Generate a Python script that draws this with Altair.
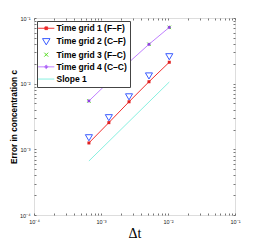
import json
import altair as alt
import pandas as pd

# ---------------- data ----------------
dt = [6.6e-4, 1.31e-3, 2.62e-3, 5.2e-3, 1.045e-2]
err_grid1 = [1.25e-3, 2.55e-3, 5.3e-3, 1.07e-2, 2.12e-2]
err_grid2 = [1.50e-3, 3.03e-3, 6.3e-3, 1.31e-2, 2.57e-2]
err_grid3 = [5.45e-3, 1.07e-2, 2.12e-2, 3.98e-2, 7.2e-2]
err_grid4 = [5.45e-3, 1.07e-2, 2.12e-2, 3.98e-2, 7.2e-2]
slope_dt = [6.6e-4, 1.045e-2]
slope_err = [6.64e-4, 1.06e-2]

series_names = ["Time grid 1 (F\u2013F)", "Time grid 2 (C\u2013F)",
                "Time grid 3 (F\u2013C)", "Time grid 4 (C\u2013C)", "Slope 1"]
series_colors = ["#f03030", "#3a5cff", "#55dd22", "#c080ff", "#88f0e0"]
marker_dark = ["#e02020", "#3a5cff", "#55dd22", "#9040e0", "#88f0e0"]

major_ticks = [1e-4, 1e-3, 1e-2, 1e-1]
major_labels = ["10\u207b\u2074", "10\u207b\u00b3", "10\u207b\u00b2", "10\u207b\u00b9"]
minor_mult = [1, 2, 3, 4, 5, 6, 7, 8, 9]

# ---------------- layout ----------------
W, H = 201, 197
DOMAIN = [1e-4, 1e-1]
all_ticks = [m * t for t in major_ticks[:-1] for m in minor_mult] + [major_ticks[-1]]
label_expr = json.dumps(major_labels, ensure_ascii=False) + "[round(log(datum.value)/LN10)+4]"

TICK_COL = "#555555"
FONT = "Liberation Sans"
LEG_FS = 8.5


def xs():
    return alt.Scale(type="log", domain=DOMAIN, nice=False)


def ys():
    return alt.Scale(type="log", domain=DOMAIN, nice=False)


label_x_axis = alt.Axis(orient="bottom", values=major_ticks, labelExpr=label_expr,
                        ticks=False, tickSize=0, domain=False, grid=False,
                        labelFont=FONT, labelFontSize=5.5, labelColor="#222222",
                        labelPadding=4, labelFlush=False,
                        title="\u0394t", titleFont="Liberation Serif", titleFontSize=14,
                        titleFontWeight="normal", titleColor="#000000",
                        titleX=W / 2, titleY=22, titleBaseline="alphabetic")
label_y_axis = alt.Axis(orient="left", values=major_ticks, labelExpr=label_expr,
                        ticks=False, tickSize=0, domain=False, grid=False,
                        labelFont=FONT, labelFontSize=5.5, labelColor="#222222",
                        labelPadding=4, labelFlush=False,
                        title="Error in concentration c", titleFont=FONT,
                        titleFontSize=8.3, titleFontWeight="bold", titleColor="#000000",
                        titleX=-18, titleY=H / 2, titleBaseline="alphabetic", titleAngle=270)


def tick_axis(orient, offset):
    return alt.Axis(orient=orient, offset=offset, values=all_ticks, labels=False,
                    ticks=True, tickSize=2, tickColor=TICK_COL, tickWidth=0.8,
                    domain=False, grid=False, title=None)


def frame(df, xaxis=None, yaxis=None):
    return alt.Chart(df).encode(
        x=alt.X("dt:Q", scale=xs(), axis=xaxis),
        y=alt.Y("err:Q", scale=ys(), axis=yaxis),
    )


df1 = pd.DataFrame({"dt": dt, "err": err_grid1})
df2 = pd.DataFrame({"dt": dt, "err": err_grid2})
df3 = pd.DataFrame({"dt": dt, "err": err_grid3})
df4 = pd.DataFrame({"dt": dt, "err": err_grid4})
dfs = pd.DataFrame({"dt": slope_dt, "err": slope_err})

g1_line = frame(df1, label_x_axis, label_y_axis).mark_line(color=series_colors[0], strokeWidth=1)
g1_pts = frame(df1, tick_axis("top", -H), tick_axis("right", -W)).mark_point(
    shape="square", filled=True, size=9, color=marker_dark[0], opacity=1)
g2_pts = frame(df2, tick_axis("bottom", -H), tick_axis("left", -W)).mark_point(
    shape="triangle-down", filled=False, size=50, color=series_colors[1], strokeWidth=1, opacity=1)
g3_pts = frame(df3).mark_point(shape="M-1,-1L1,1M-1,1L1,-1", filled=False, size=12,
                               color=series_colors[2], strokeWidth=1, opacity=1)
g4_line = frame(df4).mark_line(color=series_colors[3], strokeWidth=1)
g4_pts = frame(df4).mark_point(shape="diamond", filled=True, size=14,
                               color=marker_dark[3], opacity=1)
slope = frame(dfs).mark_line(color=series_colors[4], strokeWidth=1)

# legend layer (invisible marks, legend only)
legend_shapes = [
    "M-2.7,0H2.7M-0.45,-0.45H0.45V0.45H-0.45Z",
    "M-1.25,-0.95L1.25,-0.95L0,1.15Z",
    "M-0.65,-0.65L0.65,0.65M-0.65,0.65L0.65,-0.65",
    "M-2.7,0H2.7M0,-0.6L0.6,0L0,0.6L-0.6,0Z",
    "M-2.7,0H2.7",
]
legend_fills = [marker_dark[0], "transparent", "transparent", marker_dark[3], "transparent"]
legend_df = pd.DataFrame({"series": series_names, "dt": [1e-3] * 5, "err": [1e-3] * 5})
legend_cfg = alt.Legend(orient="none", legendX=3, legendY=3, title=None,
                        labelFont=FONT, labelFontSize=LEG_FS, labelFontWeight="bold",
                        labelColor="#000000", labelLimit=200,
                        symbolSize=36, symbolStrokeWidth=1, symbolOpacity=1,
                        symbolOffset=2, labelOffset=6, rowPadding=3.2,
                        padding=3, strokeColor="#444444", fillColor="#ffffff",
                        cornerRadius=0)
legend_layer = frame(legend_df).mark_point(opacity=0).encode(
    shape=alt.Shape("series:N", scale=alt.Scale(domain=series_names, range=legend_shapes),
                    legend=legend_cfg),
    stroke=alt.Stroke("series:N", scale=alt.Scale(domain=series_names, range=series_colors),
                      legend=legend_cfg),
    fill=alt.Fill("series:N", scale=alt.Scale(domain=series_names, range=legend_fills),
                  legend=legend_cfg),
)

chart = alt.layer(
    g1_line, g1_pts, g2_pts, g3_pts, g4_line, g4_pts, slope, legend_layer
).resolve_scale(
    x="independent", y="independent"
).resolve_axis(
    x="independent", y="independent"
).properties(
    width=W, height=H,
    autosize=alt.AutoSizeParams(type="none"),
    padding={"left": 26, "top": 10, "right": 14, "bottom": 26},
).configure_view(
    stroke="#444444", strokeWidth=1
).configure_legend(
    labelFontSize=LEG_FS, labelFont=FONT, labelFontWeight="bold"
).configure(background="#ffffff")

chart.save("out.html", embed_options={"renderer": "svg", "actions": False})
